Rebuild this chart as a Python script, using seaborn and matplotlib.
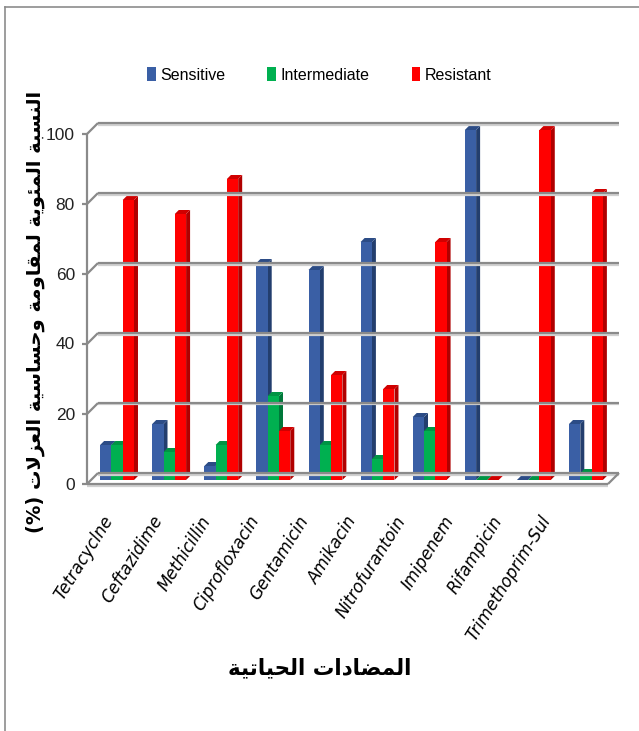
import numpy as np
import pandas as pd
import seaborn as sns
from matplotlib import pyplot as plt
from matplotlib.patches import Polygon, Patch
from matplotlib.lines import Line2D

# Data
antibiotics = ["Tetracyclne", "Ceftazidime", "Methicillin", "Ciprofloxacin", "Gentamicin",
               "Amikacin", "Nitrofurantoin", "Imipenem", "Rifampicin", "Trimethoprim-Sul"]
sensitive = [10, 16, 4, 62, 60, 68, 18, 100, 0, 16]
intermediate = [10, 8, 10, 24, 10, 6, 14, 0, 0, 2]
resistant = [80, 76, 86, 14, 30, 26, 68, 0, 100, 82]
series_names = ["Sensitive", "Intermediate", "Resistant"]
y_ticks = [0, 20, 40, 60, 80, 100]
ylabel_ar = "النسبة المئوية لمقاومة وحساسية العزلات"
xlabel_ar = "المضادات الحياتية"

colors = ["#3A5FA5", "#00B050", "#FF0000"]
side_colors = {"#3A5FA5": "#233E6E", "#00B050": "#00783A", "#FF0000": "#B00000"}
top_colors = {"#3A5FA5": "#2C4C86", "#00B050": "#009444", "#FF0000": "#D00000"}

# --- tiny arabic shaper (matplotlib has no complex text layout) ---
forms = {
    'ا': (0xFE8D, 0xFE8E), 'ب': (0xFE8F, 0xFE90, 0xFE91, 0xFE92), 'ة': (0xFE93, 0xFE94),
    'ت': (0xFE95, 0xFE96, 0xFE97, 0xFE98), 'ح': (0xFEA1, 0xFEA2, 0xFEA3, 0xFEA4),
    'د': (0xFEA9, 0xFEAA), 'ز': (0xFEAF, 0xFEB0), 'س': (0xFEB1, 0xFEB2, 0xFEB3, 0xFEB4),
    'ض': (0xFEBD, 0xFEBE, 0xFEBF, 0xFEC0), 'ع': (0xFEC9, 0xFECA, 0xFECB, 0xFECC),
    'ق': (0xFED5, 0xFED6, 0xFED7, 0xFED8), 'ل': (0xFEDD, 0xFEDE, 0xFEDF, 0xFEE0),
    'م': (0xFEE1, 0xFEE2, 0xFEE3, 0xFEE4), 'ن': (0xFEE5, 0xFEE6, 0xFEE7, 0xFEE8),
    'و': (0xFEED, 0xFEEE), 'ي': (0xFEF1, 0xFEF2, 0xFEF3, 0xFEF4),
    'ئ': (0xFE89, 0xFE8A, 0xFE8B, 0xFE8C),
}


def shape_word(w):
    out = []
    i = 0
    prev_joins = False
    while i < len(w):
        c = w[i]
        nxt = w[i + 1] if i + 1 < len(w) else None
        if c == 'ل' and nxt == 'ا':
            out.append(chr(0xFEFC if prev_joins else 0xFEFB))
            prev_joins = False
            i += 2
            continue
        f = forms[c]
        dual = len(f) == 4
        join_next = dual and nxt is not None and nxt in forms
        if prev_joins and join_next:
            g = f[3]
        elif prev_joins:
            g = f[1]
        elif join_next:
            g = f[2]
        else:
            g = f[0]
        out.append(chr(g))
        prev_joins = join_next
        i += 1
    return "".join(out)


def visual(s):
    return " ".join(shape_word(w)[::-1] for w in s.split(" ")[::-1])


df = pd.DataFrame({
    "antibiotic": antibiotics * 3,
    "result": sum([[n] * len(antibiotics) for n in series_names], []),
    "percent": sensitive + intermediate + resistant,
})

W_PX, H_PX = 639, 731
fig = plt.figure(figsize=(W_PX / 100, H_PX / 100), dpi=100)
fig.patch.set_facecolor("white")
# axes box in pixels (from top-left)
L, R, T, B = 91, 612, 130, 480
ax = fig.add_axes([L / W_PX, 1 - B / H_PX, (R - L) / W_PX, (B - T) / H_PX])
ax.set_facecolor("none")

sns.barplot(data=df, x="antibiotic", y="percent", hue="result", palette=colors,
            width=0.65, gap=0, saturation=1, legend=False, ax=ax, zorder=3,
            linewidth=0, errorbar=None)
ax.set_xlim(-0.5, 9.5)
ax.set_ylim(0, 100)
for s in ax.spines.values():
    s.set_visible(False)
ax.set_xticks([])
ax.set_yticks([])
ax.set_xlabel("")
ax.set_ylabel("")

# 3D faces on each bar
depth = 4
ddx = depth / ((R - L) / 10)
ddy = depth / ((B - T) / 100)
for p in ax.patches:
    x0, w, h = p.get_x(), p.get_width(), p.get_height()
    fc = "#%02X%02X%02X" % tuple(int(round(c * 255)) for c in p.get_facecolor()[:3])
    side = side_colors.get(fc, "#444444")
    top = top_colors.get(fc, "#444444")
    ax.add_patch(Polygon([(x0 + w, 0), (x0 + w + ddx, ddy), (x0 + w + ddx, h + ddy), (x0 + w, h)],
                         closed=True, fc=side, ec="none", zorder=2.6, clip_on=False))
    ax.add_patch(Polygon([(x0, h), (x0 + ddx, h + ddy), (x0 + w + ddx, h + ddy), (x0 + w, h)],
                         closed=True, fc=top, ec="none", zorder=2.8, clip_on=False))


def fpt(xa, ya, dx, dy):
    # axes fraction -> figure fraction with pixel offset
    return ((L + xa * (R - L) + dx) / W_PX, (1 - B / H_PX) + (ya * (B - T) + dy) / H_PX)


back = (7, 7)
front = (-4, -4)
grid_c = "#8A8A8A"
shadow_c = "#D0D0D0"


def fline(p1, p2, c=grid_c, lw=1.6, z=1):
    fig.add_artist(Line2D([p1[0], p2[0]], [p1[1], p2[1]], color=c, lw=lw, zorder=z,
                          transform=fig.transFigure, solid_capstyle="butt"))


for v in y_ticks:
    ya = v / 100
    # back wall gridline with soft shadow
    fline(fpt(0, ya, back[0], back[1] - 1.5), fpt(1, ya, back[0], back[1] - 1.5), c=shadow_c, lw=1.6, z=0.5)
    fline(fpt(0, ya, *back), fpt(1, ya, *back))
    # diagonal connector from front axis
    fline(fpt(0, ya, *front), fpt(0, ya, *back))
    # tick mark
    fline(fpt(0, ya, front[0] - 5, front[1]), fpt(0, ya, *front))
    fig.text(*fpt(0, ya, front[0] - 12, front[1] - 1), str(v), ha="right", va="center",
             fontsize=12.5, color="#222222", family="Liberation Sans")

# front axis line and floor
fline(fpt(0, 0, *front), fpt(0, 1, *front))
fline(fpt(0, 0, front[0], front[1] - 1.5), fpt(1, 0, front[0], front[1] - 1.5), c=shadow_c, z=0.5)
fline(fpt(0, 0, *front), fpt(1, 0, *front))
fline(fpt(1, 0, *front), fpt(1, 0, *back))

# x labels, slightly compressed spacing like the perspective in the original
for i, name in enumerate(antibiotics):
    ax.text(-0.14 + 0.933 * i, -0.107, name, transform=ax.get_xaxis_transform(),
            rotation=58, ha="right", va="center", rotation_mode="anchor",
            fontsize=12, style="italic", color="black", family="DejaVu Sans")

# legend
handles = [Patch(fc=c, ec="none") for c in colors]
fig.legend(handles, series_names, loc="center", bbox_to_anchor=(0.5, 1 - 75 / H_PX), ncol=3,
           frameon=False, handlelength=0.55, handleheight=1.0, handletextpad=0.3,
           columnspacing=2.6, prop={"family": "Liberation Sans", "size": 11.5})

# arabic axis titles
fig.text(35 / W_PX, 1 - 312 / H_PX, "(%) " + visual(ylabel_ar), rotation=90, ha="center", va="center",
         fontsize=14, fontweight="bold", family="DejaVu Sans")
fig.text(320 / W_PX, 1 - 668 / H_PX, visual(xlabel_ar), ha="center", va="center",
         fontsize=15.5, fontweight="bold", family="DejaVu Sans")

# outer chart frame (top and left edges visible)
fig.add_artist(Line2D([5 / W_PX, 1], [1 - 7 / H_PX, 1 - 7 / H_PX], color="#8C8C8C", lw=1.2,
                      transform=fig.transFigure))
fig.add_artist(Line2D([5 / W_PX, 5 / W_PX], [0, 1 - 7 / H_PX], color="#8C8C8C", lw=1.2,
                      transform=fig.transFigure))

plt.savefig("out.png", dpi=100)
